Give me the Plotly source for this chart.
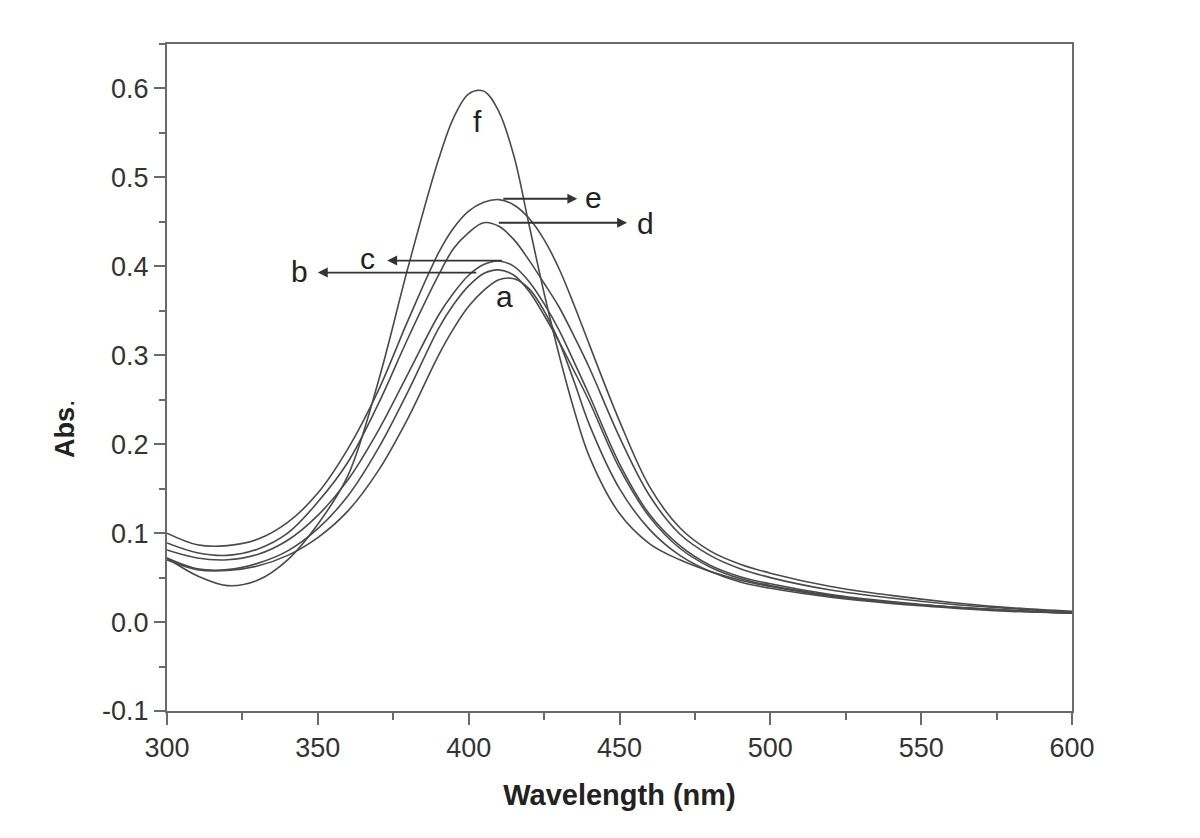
import plotly.graph_objects as go

wavelength = [300, 310, 320, 330, 340, 350, 360, 370, 380, 390, 395, 400, 405, 410, 415, 420, 425, 430, 435, 440, 450, 460, 470, 480, 490, 500, 520, 540, 560, 580, 600]

abs_a = [0.070, 0.059, 0.058, 0.063, 0.075, 0.095, 0.125, 0.170, 0.230, 0.300, 0.330, 0.355, 0.373, 0.385, 0.386, 0.375, 0.350, 0.315, 0.270, 0.222, 0.150, 0.104, 0.075, 0.057, 0.045, 0.038, 0.028, 0.021, 0.016, 0.012, 0.010]
abs_b = [0.072, 0.060, 0.059, 0.066, 0.080, 0.105, 0.142, 0.195, 0.260, 0.330, 0.357, 0.378, 0.392, 0.396, 0.390, 0.372, 0.345, 0.315, 0.282, 0.248, 0.173, 0.118, 0.083, 0.062, 0.049, 0.041, 0.030, 0.022, 0.017, 0.013, 0.010]
abs_c = [0.081, 0.072, 0.070, 0.076, 0.092, 0.120, 0.160, 0.215, 0.280, 0.345, 0.370, 0.390, 0.402, 0.406, 0.400, 0.383, 0.358, 0.328, 0.292, 0.255, 0.178, 0.121, 0.086, 0.064, 0.051, 0.043, 0.031, 0.023, 0.017, 0.013, 0.010]
abs_d = [0.089, 0.078, 0.075, 0.082, 0.100, 0.135, 0.180, 0.245, 0.320, 0.390, 0.420, 0.438, 0.449, 0.445, 0.430, 0.407, 0.381, 0.354, 0.321, 0.286, 0.208, 0.142, 0.099, 0.075, 0.060, 0.050, 0.036, 0.027, 0.020, 0.015, 0.011]
abs_e = [0.100, 0.087, 0.086, 0.093, 0.112, 0.145, 0.195, 0.260, 0.340, 0.415, 0.443, 0.462, 0.472, 0.475, 0.469, 0.454, 0.430, 0.397, 0.356, 0.312, 0.226, 0.152, 0.106, 0.080, 0.065, 0.055, 0.040, 0.030, 0.022, 0.016, 0.012]
abs_f = [0.072, 0.052, 0.041, 0.047, 0.070, 0.110, 0.165, 0.270, 0.400, 0.520, 0.567, 0.594, 0.597, 0.574, 0.524, 0.447, 0.370, 0.300, 0.238, 0.186, 0.122, 0.088, 0.070, 0.057, 0.047, 0.040, 0.029, 0.022, 0.017, 0.013, 0.010]

series = [("a", abs_a), ("b", abs_b), ("c", abs_c), ("d", abs_d), ("e", abs_e), ("f", abs_f)]

x_ticks = [300, 350, 400, 450, 500, 550, 600]
y_ticks = [-0.1, 0.0, 0.1, 0.2, 0.3, 0.4, 0.5, 0.6]
y_ticktext = ["-0.1", "0.0", "0.1", "0.2", "0.3", "0.4", "0.5", "0.6"]

# labels: (text, x, y)
labels = [("a", 412, 0.366), ("b", 344, 0.394), ("c", 366.5, 0.409),
          ("d", 458.5, 0.448), ("e", 441.5, 0.477), ("f", 403, 0.563)]
# arrows: (x_tail, x_head, y)
arrows = [(403, 350, 0.393), (411.5, 373, 0.4065), (409.5, 452.5, 0.449), (411, 436, 0.476)]

LINE = "#4a4a4a"
AX = "#6a6a6a"
FONT = "Liberation Sans, Arial, sans-serif"

fig = go.Figure()
for name, vals in series:
    fig.add_trace(go.Scatter(x=wavelength, y=vals, mode="lines", name=name,
                             line=dict(color=LINE, width=1.6, shape="spline", smoothing=1.0),
                             showlegend=False, hoverinfo="skip"))

for t, x, y in labels:
    fig.add_annotation(x=x, y=y, text=t, showarrow=False, xref="x", yref="y",
                       font=dict(family=FONT, size=30, color="#222222"))

for xt, xh, y in arrows:
    fig.add_annotation(x=xh, y=y, ax=xt, ay=y, xref="x", yref="y", axref="x", ayref="y",
                       text="", showarrow=True, arrowhead=2, arrowsize=1.1, arrowwidth=1.8,
                       arrowcolor="#333333", standoff=0, startstandoff=0)

# y-axis title placed as rotated text (sits below the axis middle in the reference)
fig.add_annotation(x=-0.113, y=0.424, xref="paper", yref="paper", text="<b>Abs</b>.",
                   textangle=-90, showarrow=False, xanchor="center", yanchor="middle",
                   font=dict(family=FONT, size=27, color="#222222"))

fig.update_layout(
    width=1200, height=838,
    margin=dict(l=159, r=136, t=36, b=135),
    paper_bgcolor="white", plot_bgcolor="white",
    font=dict(family=FONT, color="#333333"),
    showlegend=False,
)

fig.update_xaxes(
    range=[300, 600], tickvals=x_ticks, ticktext=[str(v) for v in x_ticks],
    showgrid=False, zeroline=False,
    showline=True, linecolor=AX, linewidth=2, mirror=True,
    ticks="outside", ticklen=12, tickwidth=2, tickcolor=AX,
    minor=dict(ticks="outside", dtick=25, ticklen=7, tickwidth=2, tickcolor=AX, showgrid=False),
    tickfont=dict(family=FONT, size=27, color="#333333"),
    title=dict(text="<b>Wavelength (nm)</b>", font=dict(family=FONT, size=29, color="#222222"), standoff=22),
)
fig.update_yaxes(
    range=[-0.1, 0.65], tickvals=y_ticks, ticktext=y_ticktext,
    showgrid=False, zeroline=False,
    showline=True, linecolor=AX, linewidth=2, mirror=True,
    ticks="outside", ticklen=11, tickwidth=2, tickcolor=AX,
    minor=dict(ticks="outside", dtick=0.05, tick0=0, ticklen=6, tickwidth=2, tickcolor=AX, showgrid=False),
    tickfont=dict(family=FONT, size=27, color="#333333"),
)

fig.write_html("out.html")
